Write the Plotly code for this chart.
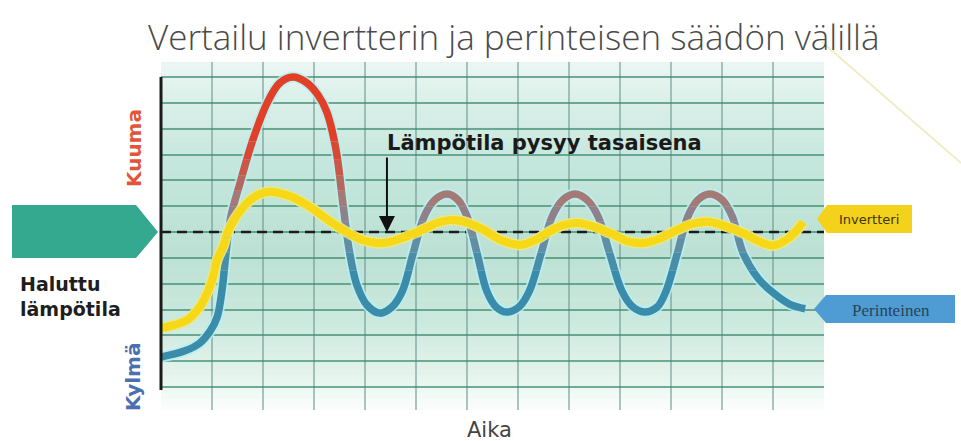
import plotly.graph_objects as go

# ---------------- data ----------------
TITLE = "Vertailu invertterin ja perinteisen säädön välillä"
X_LABEL = "Aika"
HOT_LABEL = "Kuuma"
COLD_LABEL = "Kylmä"
SETPOINT_LABEL = "Haluttu<br>lämpötila"
NOTE_LABEL = "Lämpötila pysyy tasaisena"
INVERTER_NAME = "Invertteri"
TRADITIONAL_NAME = "Perinteinen"

# time in grid columns, temperature in grid rows relative to the set point
time_span = [0, 13]
setpoint = 0.0

time_traditional = [0.00, 0.47, 0.76, 0.96, 1.10, 1.20, 1.27, 1.37, 1.55, 1.80,
                    2.08, 2.33, 2.59, 2.84, 3.08, 3.25, 3.43, 3.57, 3.69, 3.84,
                    4.04, 4.29, 4.53, 4.73, 4.94, 5.16, 5.37, 5.61, 5.82, 6.00,
                    6.20, 6.39, 6.57, 6.78, 7.02, 7.22, 7.45, 7.67, 7.88, 8.12,
                    8.35, 8.57, 8.80, 9.04, 9.25, 9.49, 9.73, 9.90, 10.12, 10.33,
                    10.53, 10.76, 11.00, 11.20, 11.41, 11.71, 12.00, 12.33, 12.63]
temp_traditional = [-4.84, -4.60, -4.30, -3.85, -3.30, -2.20, -0.90, 0.60, 1.90, 3.56,
                    4.99, 5.77, 6.00, 5.80, 5.30, 4.65, 3.20, 1.05, -0.70, -2.05,
                    -2.83, -3.14, -2.90, -2.30, -0.85, 0.60, 1.25, 1.47, 1.25, 0.60,
                    -0.85, -2.30, -2.90, -3.10, -2.90, -2.30, -0.85, 0.60, 1.25, 1.47,
                    1.25, 0.60, -0.85, -2.30, -2.90, -3.10, -2.90, -2.30, -0.85, 0.60,
                    1.25, 1.47, 1.25, 0.60, -0.80, -1.80, -2.35, -2.80, -2.97]

time_inverter = [0.00, 0.51, 0.76, 0.92, 1.02, 1.10, 1.22, 1.31, 1.51, 1.75,
                 1.98, 2.20, 2.53, 2.92, 3.25, 3.57, 3.94, 4.35, 4.75, 5.14,
                 5.43, 5.73, 6.02, 6.31, 6.65, 7.04, 7.33, 7.57, 7.86, 8.16,
                 8.49, 8.80, 9.14, 9.45, 9.78, 10.12, 10.43, 10.76, 11.10, 11.41,
                 11.71, 12.00, 12.33, 12.59]
temp_inverter = [-3.72, -3.41, -2.90, -2.30, -1.74, -1.08, -0.55, 0.00, 0.70, 1.24,
                 1.50, 1.55, 1.38, 0.97, 0.50, 0.08, -0.30, -0.43, -0.22, 0.10,
                 0.36, 0.46, 0.35, 0.10, -0.30, -0.50, -0.32, -0.04, 0.25, 0.35,
                 0.20, -0.04, -0.35, -0.43, -0.25, 0.08, 0.32, 0.39, 0.20, -0.04,
                 -0.35, -0.52, -0.20, 0.39]

note_time, note_temp = 4.39, 3.45
arrow_time = 4.43

# ---------------- geometry / style ----------------
W, H = 961, 441
ML, MR, MT, MB = 161, 137, 62, 31
PW, PH = W - ML - MR, H - MT - MB
UNIT = (387 - 77) / 12.0          # pixels per grid row
MID_PX = 232
Y_MAX = (MID_PX - MT) / UNIT
Y_MIN = -((H - MB) - MID_PX) / UNIT
X_RANGE = [time_span[0], time_span[1] - 0.001]


def px_x(x):
    return (x - ML) / PW


def px_y(y):
    return (H - MB - y) / PH


def path(points):
    s = "M " + " L ".join(f"{px_x(x):.5f},{px_y(y):.5f}" for x, y in points)
    return s + " Z"


def lerp_color(stops, f):
    for i in range(len(stops) - 1):
        f0, c0 = stops[i]
        f1, c1 = stops[i + 1]
        if f0 <= f <= f1:
            t = (f - f0) / (f1 - f0) if f1 > f0 else 0
            c = [round(c0[j] + (c1[j] - c0[j]) * t) for j in range(3)]
            return f"rgb({c[0]},{c[1]},{c[2]})"
    c = stops[-1][1]
    return f"rgb({c[0]},{c[1]},{c[2]})"


bg_stops = [(0.00, (252, 254, 253)), (0.10, (228, 244, 237)), (0.25, (204, 233, 222)),
            (0.45, (188, 225, 212)), (0.70, (196, 230, 220)), (0.90, (220, 240, 234)),
            (1.00, (236, 247, 244))]

band_edges = [Y_MIN, -1.5, -0.8, -0.2, 0.4, 1.0, 1.6, 2.2, 2.8, 3.5, Y_MAX]
band_colors = ["#3b8cab", "#4a8da9", "#618ea3", "#7a8a98", "#8f8189",
               "#a47a77", "#b6685e", "#c95846", "#d84933", "#e23f28"]

fig = go.Figure()

# set-point line on the main subplot (drawn first, below the curves)
fig.add_trace(go.Scatter(x=time_span, y=[setpoint, setpoint], mode="lines",
                         line=dict(color="#1b1b1b", width=2.5, dash="10px,6px"),
                         hoverinfo="skip", showlegend=False, xaxis="x", yaxis="y"))

layout_axes = {}
eps = 1.0 / UNIT
for k, col in enumerate(band_colors):
    lo, hi = band_edges[k], band_edges[k + 1]
    hi2 = min(hi + eps, Y_MAX)
    d0 = (lo - Y_MIN) / (Y_MAX - Y_MIN)
    d1 = min((hi2 - Y_MIN) / (Y_MAX - Y_MIN), 1.0)
    n = k + 2
    layout_axes[f"yaxis{n}"] = dict(domain=[d0, d1], range=[lo, hi2], visible=False,
                                    fixedrange=True, anchor="x2")
    ya = f"y{n}"
    fig.add_trace(go.Scatter(x=time_traditional, y=temp_traditional, mode="lines",
                             line=dict(shape="spline", smoothing=1, width=11,
                                       color="rgba(185,238,242,0.85)", simplify=False),
                             hoverinfo="skip", showlegend=False, xaxis="x2", yaxis=ya))
    fig.add_trace(go.Scatter(x=time_traditional, y=temp_traditional, mode="lines",
                             line=dict(shape="spline", smoothing=1, width=7.5,
                                       color=col, simplify=False),
                             hoverinfo="skip", showlegend=False, xaxis="x2", yaxis=ya))
    fig.add_trace(go.Scatter(x=time_inverter, y=temp_inverter, mode="lines",
                             line=dict(shape="spline", smoothing=1, width=11,
                                       color="rgba(236,232,130,0.9)", simplify=False),
                             hoverinfo="skip", showlegend=False, xaxis="x2", yaxis=ya))
    fig.add_trace(go.Scatter(x=time_inverter, y=temp_inverter, mode="lines",
                             line=dict(shape="spline", smoothing=1, width=8,
                                       color="#f6d816", simplify=False),
                             hoverinfo="skip", showlegend=False, xaxis="x2", yaxis=ya))

shapes = []
# gradient background
N = 60
for i in range(N):
    f0, f1 = i / N, (i + 1) / N
    shapes.append(dict(type="rect", xref="x", yref="y", x0=X_RANGE[0], x1=X_RANGE[1],
                       y0=Y_MIN + f0 * (Y_MAX - Y_MIN), y1=Y_MIN + f1 * (Y_MAX - Y_MIN) + 0.02,
                       fillcolor=lerp_color(bg_stops, (f0 + f1) / 2), line=dict(width=0),
                       layer="below"))
# vertical axis line
shapes.append(dict(type="line", xref="paper", yref="paper", x0=0, x1=0,
                   y0=px_y(390), y1=px_y(77), line=dict(color="#1a1a1a", width=3), layer="above"))
# teal set-point arrow
shapes.append(dict(type="path", xref="paper", yref="paper",
                   path=path([(12, 205), (136, 205), (158, 232), (136, 258), (12, 258)]),
                   fillcolor="#34a990", line=dict(width=0), layer="above"))
# callouts
shapes.append(dict(type="path", xref="paper", yref="paper",
                   path=path([(817, 219), (827, 205), (912, 205), (912, 233), (827, 233)]),
                   fillcolor="#f4d21c", line=dict(width=0), layer="above"))
shapes.append(dict(type="path", xref="paper", yref="paper",
                   path=path([(814, 309), (826, 295), (955, 295), (955, 323), (826, 323)]),
                   fillcolor="#4e9cd3", line=dict(width=0), layer="above"))
# faint decorative diagonal
shapes.append(dict(type="line", xref="paper", yref="paper", x0=px_x(822), y0=px_y(42),
                   x1=px_x(961), y1=px_y(163), line=dict(color="rgba(236,228,170,0.7)", width=2),
                   layer="above"))

annotations = [
    dict(text=TITLE, xref="paper", yref="paper", x=px_x(514), y=px_y(37), showarrow=False,
         xanchor="center", yanchor="middle",
         font=dict(family="Open Sans", size=35, color="#4a4a4a", weight=300)),
    dict(text="", xref="x", yref="y", x=arrow_time, y=setpoint, ax=0, ay=-76,
         showarrow=True, arrowhead=2, arrowsize=1.6, arrowwidth=2, arrowcolor="#111111",
         standoff=0),
    dict(text=NOTE_LABEL, xref="x", yref="y", x=note_time, y=note_temp, showarrow=False,
         xanchor="left", yanchor="middle",
         font=dict(family="DejaVu Sans", size=21, color="#1a1a1a", weight="bold")),
    dict(text=HOT_LABEL, xref="paper", yref="paper", x=px_x(134), y=px_y(148), textangle=-90,
         showarrow=False, xanchor="center", yanchor="middle",
         font=dict(family="DejaVu Sans", size=20, color="#e2553a", weight="bold")),
    dict(text=COLD_LABEL, xref="paper", yref="paper", x=px_x(133), y=px_y(377), textangle=-90,
         showarrow=False, xanchor="center", yanchor="middle",
         font=dict(family="DejaVu Sans", size=20, color="#4a70b0", weight="bold")),
    dict(text=SETPOINT_LABEL, xref="paper", yref="paper", x=px_x(18), y=px_y(296),
         showarrow=False, xanchor="left", yanchor="middle", align="left",
         font=dict(family="DejaVu Sans", size=19, color="#1e1e1e", weight="bold")),
    dict(text=X_LABEL, xref="paper", yref="paper", x=px_x(489), y=px_y(430), showarrow=False,
         xanchor="center", yanchor="middle",
         font=dict(family="DejaVu Sans", size=21, color="#444444")),
    dict(text=INVERTER_NAME, xref="paper", yref="paper", x=px_x(869), y=px_y(219),
         showarrow=False, xanchor="center", yanchor="middle",
         font=dict(family="DejaVu Sans", size=13, color="#3d3510")),
    dict(text=TRADITIONAL_NAME, xref="paper", yref="paper", x=px_x(891), y=px_y(310),
         showarrow=False, xanchor="center", yanchor="middle",
         font=dict(family="Liberation Serif", size=17, color="#2b4257")),
]

fig.update_layout(
    width=W, height=H,
    margin=dict(l=ML, r=MR, t=MT, b=MB, autoexpand=False),
    paper_bgcolor="white", plot_bgcolor="rgba(0,0,0,0)",
    showlegend=False,
    xaxis=dict(domain=[0, 1], range=X_RANGE, showgrid=True, dtick=1, tick0=0,
               gridcolor="rgba(105,150,145,0.55)", gridwidth=1.5, zeroline=False,
               showticklabels=False, ticks="", showline=False, fixedrange=True, anchor="y"),
    yaxis=dict(domain=[0, 1], range=[Y_MIN, Y_MAX], showgrid=True, dtick=1, tick0=0,
               gridcolor="rgba(60,140,110,0.7)", gridwidth=2, zeroline=False,
               showticklabels=False, ticks="", showline=False, fixedrange=True, anchor="x"),
    xaxis2=dict(domain=[0, 1], range=X_RANGE, visible=False, fixedrange=True, anchor="y2"),
    shapes=shapes, annotations=annotations,
    **layout_axes,
)

fig.write_html("out.html", config={"displayModeBar": False},
               post_script="document.body.style.margin='0';document.body.style.overflow='hidden';")
